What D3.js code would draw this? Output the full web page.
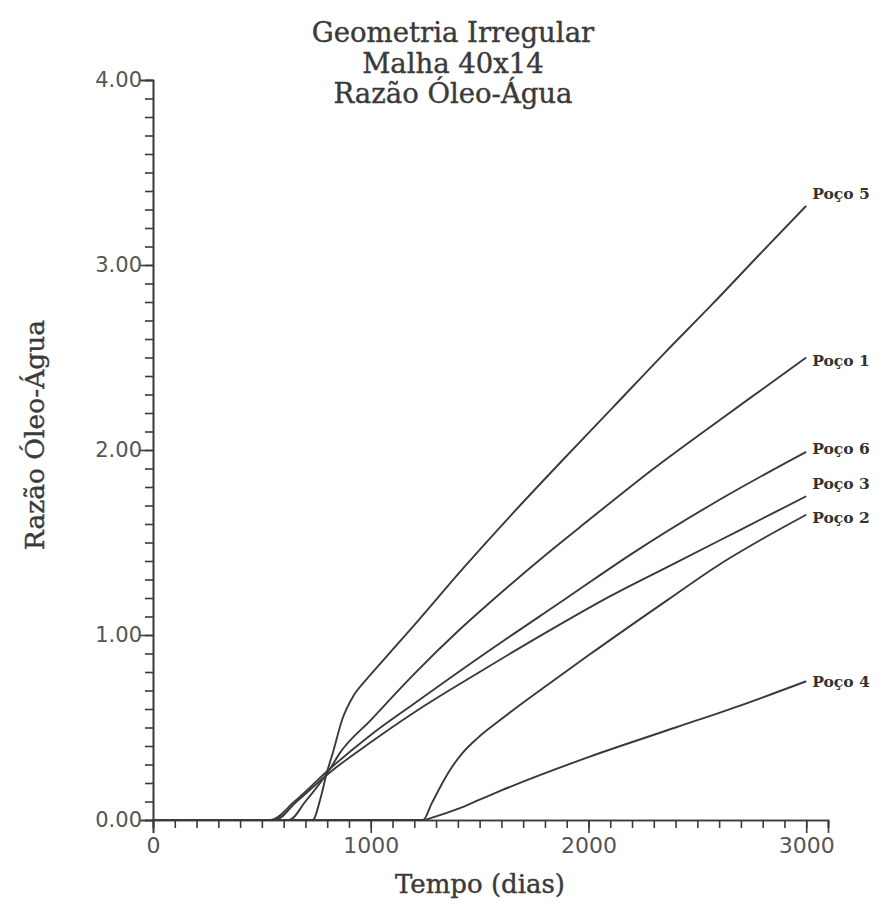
<!DOCTYPE html>
<html>
<head>
<meta charset="utf-8">
<script src="https://cdn.jsdelivr.net/npm/d3@7"></script>
<style>
  body { margin: 0; background: #fff; }
  svg { display: block; }
</style>
</head>
<body>
<svg id="chart" width="881" height="909"></svg>
<script>
// titulo e eixos
const titleLines = ["Geometria Irregular", "Malha 40x14", "Razão Óleo-Água"]
const xTitle = "Tempo (dias)"
const yTitle = "Razão Óleo-Água"
const xMajor = [0, 1000, 2000, 3000]
const yMajor = [0, 1, 2, 3, 4]

// curvas (tempo em dias, razao)
const poco5 = [[0,0],[733,0],[770,0.12],[797,0.25],[825,0.36],[871,0.55],[920,0.67],[980,0.76],[1055,0.86],[1212,1.07],[1424,1.36],[1650,1.655],[1885,1.95],[2120,2.24],[2346,2.52],[2562,2.78],[2780,3.05],[3000,3.32]]
const poco1 = [[0,0],[625,0],[700,0.1],[815,0.28],[857,0.36],[1000,0.54],[1200,0.79],[1400,1.02],[1600,1.23],[1800,1.43],[2000,1.62],[2300,1.90],[2600,2.16],[2800,2.33],[3000,2.50]]
const poco6 = [[0,0],[540,0],[650,0.1],[815,0.28],[1000,0.46],[1200,0.63],[1500,0.88],[1900,1.20],[2200,1.44],[2600,1.73],[3000,1.99]]
const poco3 = [[0,0],[560,0],[660,0.1],[815,0.26],[1000,0.42],[1250,0.62],[1500,0.80],[1800,1.01],[2100,1.21],[2400,1.39],[2700,1.57],[3000,1.75]]
const poco2 = [[0,0],[1240,0],[1280,0.09],[1320,0.18],[1364,0.27],[1420,0.36],[1488,0.44],[1594,0.54],[1800,0.72],[2000,0.89],[2364,1.19],[2600,1.38],[2800,1.52],[3000,1.65]]
const poco4 = [[0,0],[1240,0],[1300,0.02],[1400,0.06],[1500,0.11],[1600,0.16],[2000,0.34],[2400,0.50],[2700,0.62],[3000,0.75]]

const series = [
  {name: "Poço 5", values: poco5},
  {name: "Poço 1", values: poco1},
  {name: "Poço 6", values: poco6},
  {name: "Poço 3", values: poco3},
  {name: "Poço 2", values: poco2},
  {name: "Poço 4", values: poco4}
]
// deslocamento vertical dos rotulos
const labelDy = {"Poço 5": -12, "Poço 1": 3, "Poço 6": -3, "Poço 3": -13, "Poço 2": 3, "Poço 4": 0}

const svg = d3.select("#chart")
const ink = "#3a3a3a"

const x = d3.scaleLinear().domain([0, 3100]).range([153, 828])
const y = d3.scaleLinear().domain([0, 4]).range([820, 80])

// eixo x
const gx = svg.append("g").attr("transform", `translate(0,${y(0)})`)
gx.call(d3.axisBottom(x).tickValues(d3.range(0, 3101, 100)).tickSize(8).tickFormat(""))
gx.append("g").call(d3.axisBottom(x).tickValues(xMajor).tickSize(13).tickFormat(d3.format("d")))
gx.selectAll(".domain").attr("stroke", ink).attr("stroke-width", 1.6)
gx.selectAll(".tick line").attr("stroke", ink).attr("stroke-width", 1.6)
gx.selectAll(".tick text")
  .attr("font-family", "DejaVu Sans").attr("font-size", 22).attr("fill", "#555")
  .attr("y", 15).attr("dy", "0.8em")

// eixo y
const gy = svg.append("g").attr("transform", `translate(${x(0)},0)`)
gy.call(d3.axisLeft(y).tickValues(d3.range(0, 40.5, 1).map(d => d / 10)).tickSize(8).tickFormat(""))
gy.append("g").call(d3.axisLeft(y).tickValues(yMajor).tickSize(14).tickFormat(d3.format(".2f")))
gy.selectAll(".domain").attr("stroke", ink).attr("stroke-width", 1.6)
gy.selectAll(".tick line").attr("stroke", ink).attr("stroke-width", 1.6)
gy.selectAll(".tick text")
  .attr("font-family", "DejaVu Sans").attr("font-size", 21).attr("fill", "#555")
  .attr("x", -11)

// curvas
const line = d3.line()
  .x(d => x(d[0]))
  .y(d => y(d[1]))
  .curve(d3.curveMonotoneX)

svg.append("g").selectAll("path")
  .data(series)
  .join("path")
  .attr("d", d => line(d.values))
  .attr("fill", "none")
  .attr("stroke", ink)
  .attr("stroke-width", 1.9)

// rotulos dos pocos
svg.append("g").selectAll("text")
  .data(series)
  .join("text")
  .attr("x", d => x(d.values[d.values.length - 1][0]) + 6)
  .attr("y", d => y(d.values[d.values.length - 1][1]) + labelDy[d.name])
  .attr("dy", "0.35em")
  .attr("font-family", "DejaVu Serif")
  .attr("font-weight", "bold")
  .attr("font-size", 15.5)
  .attr("fill", "#333")
  .text(d => d.name)

// titulo
svg.append("g").selectAll("text")
  .data(titleLines)
  .join("text")
  .attr("x", 453)
  .attr("y", (d, i) => 42 + i * 30.5)
  .attr("text-anchor", "middle")
  .attr("font-family", "DejaVu Serif")
  .attr("font-size", 27.5)
  .attr("fill", "#3a3a3a")
  .attr("stroke", "#3a3a3a")
  .attr("stroke-width", 0.4)
  .text(d => d)

svg.append("text")
  .attr("x", 480)
  .attr("y", 893)
  .attr("text-anchor", "middle")
  .attr("font-family", "DejaVu Serif")
  .attr("font-size", 26)
  .attr("fill", "#3a3a3a")
  .attr("stroke", "#3a3a3a")
  .attr("stroke-width", 0.4)
  .text(xTitle)

svg.append("text")
  .attr("transform", "translate(44,435) rotate(-90)")
  .attr("text-anchor", "middle")
  .attr("font-family", "DejaVu Serif")
  .attr("font-size", 26.5)
  .attr("fill", "#3a3a3a")
  .attr("stroke", "#3a3a3a")
  .attr("stroke-width", 0.4)
  .text(yTitle)
</script>
</body>
</html>
